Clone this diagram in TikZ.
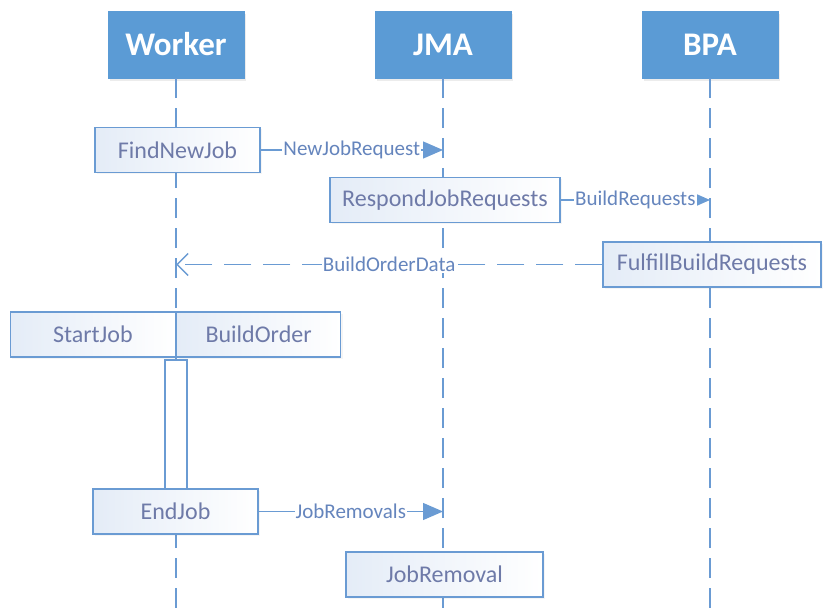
\documentclass[tikz,border=0pt]{standalone}
\usepackage{fontspec}
\setmainfont{Carlito}
\usetikzlibrary{arrows.meta,shadows}
\definecolor{hdr}{HTML}{5B9BD5}
\definecolor{edge}{HTML}{6A9BD3}
\definecolor{boxtxt}{HTML}{6E7AA8}
\definecolor{msgtxt}{HTML}{6585BD}
\definecolor{boxL}{HTML}{E4ECF7}
\tikzset{
  header/.style={draw=hdr, fill=hdr, minimum width=136pt, minimum height=67pt,
    text=white, font=\fontsize{33}{34}\selectfont\bfseries, inner sep=0pt,
    drop shadow={opacity=0.15, shadow xshift=2pt, shadow yshift=-3pt}},
  lifeline/.style={draw=edge, line width=1.6pt, dash pattern=on 20pt off 10pt},
  actbox/.style={draw=edge, line width=1.3pt, left color=boxL, right color=white,
    minimum height=45pt, inner sep=0pt, text=boxtxt,
    font=\fontsize{24}{25}\selectfont,
    drop shadow={opacity=0.08, shadow xshift=2pt, shadow yshift=-2pt}},
  msg/.style={draw=edge, line width=1.3pt, -{Triangle[length=20pt,width=17pt]}},
  msgsmall/.style={draw=edge, line width=1.3pt, -{Triangle[length=14pt,width=12pt]}},
  reply/.style={draw=edge, line width=1.5pt, dash pattern=on 27pt off 12pt,
    -{Straight Barb[length=11pt,width=22pt]}},
  msglabel/.style={fill=white, inner sep=1pt, text=msgtxt,
    font=\fontsize{21}{22}\selectfont},
  bar/.style={draw=edge, line width=1.3pt, fill=white}
}
\begin{document}
\begin{tikzpicture}[x=1pt,y=-1pt]
\useasboundingbox (0,0) rectangle (824,609);

% participants
\node[header] (worker) at (176,44.5) {Worker};
\node[header] (jma) at (443,44.5) {JMA};
\node[header] (bpa) at (710,44.5) {BPA};

% lifeline ends
\coordinate (worker-end) at (176,612);
\coordinate (jma-end) at (443,612);
\coordinate (bpa-end) at (710,612);

\draw[lifeline] (worker.south) -- (worker-end);
\draw[lifeline] (jma.south) -- (jma-end);
\draw[lifeline] (bpa.south) -- (bpa-end);

% activation bar of the running job
\node[bar, minimum width=22pt, minimum height=130pt, inner sep=0pt] (run) at (176,425) {};

% activities
\node[actbox, minimum width=165pt] (find) at (177.5,150) {FindNewJob};
\node[actbox, minimum width=230pt] (respond) at (445,200) {RespondJobRequests};
\node[actbox, minimum width=218pt] (fulfill) at (712,264.5) {FulfillBuildRequests};
\node[actbox, minimum width=165pt, anchor=east] (start) at (176,334.5) {StartJob};
\node[actbox, minimum width=164pt, anchor=west] (order) at (176,334.5) {BuildOrder};
\node[actbox, minimum width=165pt] (endjob) at (175.5,511.5) {EndJob};
\node[actbox, minimum width=197pt] (removal) at (444.5,574.5) {JobRemoval};

% messages
\draw[msg] (find.east) -- (find.east -| jma) node[msglabel, pos=0.5] {NewJobRequest};
\draw[msgsmall] (respond.east) -- (respond.east -| bpa) node[msglabel, pos=0.5] {BuildRequests};
\draw[reply] (fulfill.west) -- (fulfill.west -| worker) node[msglabel, pos=0.5] {BuildOrderData};
\draw[msg] (endjob.east) -- (endjob.east -| jma) node[msglabel, pos=0.5] {JobRemovals};
\end{tikzpicture}
\end{document}
